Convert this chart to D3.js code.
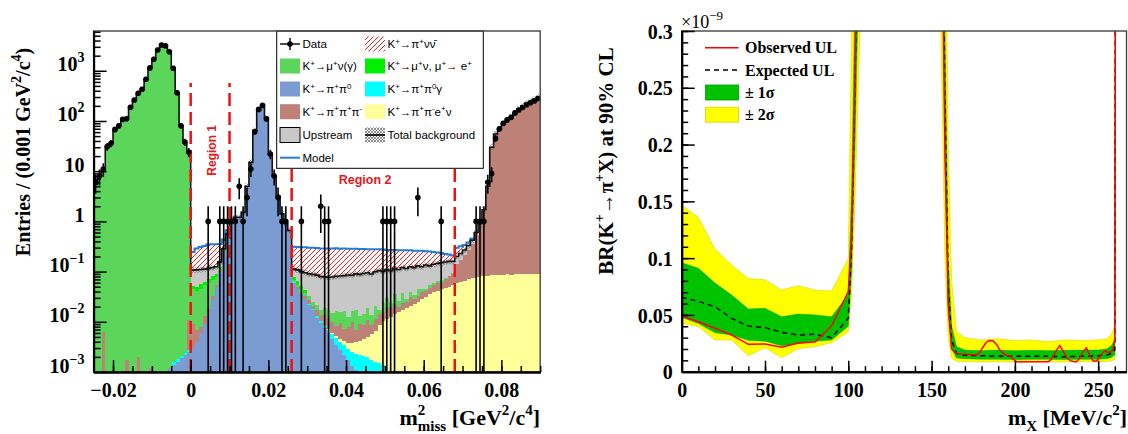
<!DOCTYPE html>
<html><head><meta charset="utf-8">
<script src="https://cdn.jsdelivr.net/npm/d3@7"></script>
<style>body{margin:0;background:#fff} svg{display:block}</style>
</head><body>
<svg id="c" width="1128" height="434"></svg>
<script>
// ---------------- LEFT PANEL DATA (bins of 0.001 GeV^2/c^4 from -0.025) ----------------
const binStart = -0.025, binWidth = 0.001;
const dataCounts = [6,8,11,31,36,68,80,108,111,188,262,356,428,677,1140,1694,2594,3266,3160,2400,1120,366,80,38,24,
 0,0,0,0,1,0,0,1,1,1,
 1,1,5,1,3,11,61,170,205,110,22,8,3,1,1,0,
 0,0,1,0,0,0,0,2,1,1, 0,0,0,0,0,0,0,0,0,0, 0,0,0,1,1,1,1,0,0,0, 0,0,3,0,0,0,0,0,1,0, 0,0,
 0,0,0,0,0,1,1,1,6,9,45,70,90,105,118,145,165,185,210,230,250,280];
const muNu = [5.5,8,10.5,30,36,66,80,105,112,185,260,355,430,680,1140,1700,2600,3250,3150,2400,1120,365,80,37,24,
 0.035,0.035,0.038,0.04,0.04,0.035,0.025,0.015,0.01,0.005,
 0,0,0,0,0,0,0,0,0,0,0,0,0,0,0,0,
 0.004,0.005,0.006,0.005,0.005,0.004,0.005,0.004,0.005,0.006, 0.005,0.008,0.006,0.009,0.005,0.007,0.01,0.004,0.006,0.008,
 0.005,0.009,0.003,0.008,0.01,0.005,0.012,0.006,0.014,0.004, 0.008,0.006,0.012,0.006,0.004,0.008,0.005,0.004,0.006,0.003, 0.003,0.003,
 0,0,0,0,0,0,0,0,0,0,0,0,0,0,0,0,0,0,0,0,0,0];
const muNuE = [0,0,0,0,0,0,0,0,0,0,0,0,0,0,0,0,0,0,0,0,0,0,0,0,0,
 0.008,0.008,0.01,0.01,0.012,0.012,0.01,0.008,0.005,0,
 0,0,0,0,0,0,0,0,0,0,0,0,0,0,0,0,
 0.01,0.012,0.008,0.006,
 0,0,0,0,0,0,0,0,0,0,0,0,0,0,0,0,0,0,0,0,0,0,0,0,0,0,0,0,0,0,0,0,0,0,0,0,0,0,0,0,0,0,0,0,0,0,0,0,0,0,0,0,0,0,0,0,0,0,0,0];
const piPi0 = [0,0,0,0,0,0,0,0,0,0,0,0,0,0,0,0,0,0,0,
 0.0012,0.0014,0.0016,0.0019,0.0022,0.0025,
 0.003,0.004,0.006,0.009,0.015,0.028,0.05,0.1,0.25,0.55,
 1.0,1.2,1.2,1.5,5,15,65,165,195,115,22,8,3.2,1.4,0.9,0.65,
 0.06,0.045,0.035,0.028,0.022,0.017,0.012,0.0095,0.0075,0.006,0.0045,0.0035,0.0028,0.0022,0.0017,0.0013,0.0011,0.001,0.0009,
 0.0008,0.0007,0.0006,0.0005,0.0004,
 0,0,0,0,0,0,0,0,0,0,0,0,0,0,0,0,0,0,0,0,0,0,0,0,0,0,0,0,0,0,0,0,0,0,0,0,0,0,0,0];
const piPi0g = [0,0,0,0,0,0,0,0,0,0,0,0,0,0,0,0,0,0,0,0,
 0.0002,0.0002,0.0002,0.0002,0.0002,
 0,0,0,0,0,0,0,0,0,0,0,0,0,0,0,0,0,0,0,0,0,0,0,0,0,0,
 0.001,0.001,0.001,0.001,0.001,0.001,0.001,0.001,0.001,0.001,
 0.0012,0.0012,0.0012,0.0012,0.0012,0.0012,0.0012,0.0012,0.0012,0.0012,
 0.001,0.001,0.001,0.001, 0.0006,0.0006,
 0,0,0,0,0,0,0,0,0,0,0,0,0,0,0,0,0,0,0,0,0,0,0,0,0,0,0,0,0,0,0,0,0,0,0,0,0,0];
const piPiEnu = [0,0,0,0,0,0,0,0,0,0,0,0,0,0,0,0,0,0,0,0,0,0,0,0,0,0,0,0,0,0,
 0,0,0,0,0,0,0,0,0,0,0,0,0,0,0,0,0,0,0,0,0,0,0,0,0,0,0,0,0,0,
 0.0003,0.0004,0.0005,0.0006,0.0007,0.0008,0.0012,0.0016,0.002,0.0025,
 0.003,0.004,0.005,0.007,0.009,0.011,0.012,0.014,0.016,0.017,
 0.019,0.021,0.023,0.025,0.028,0.031,0.035,0.039,0.042,0.045,
 0.048,0.05,0.054,0.058,0.062,0.066,0.07,0.074,0.077,0.08,
 0.082,0.083,0.084,0.085,0.086,0.087,0.088,0.087,0.088,0.089,
 0.09,0.089,0.09,0.09,0.091];
const pi3 = [0,0,0.0064,0,0,0,0,0,0.0017,0,0,0.002,0,0,0.0012,0,0,0,0,0,0,0,0,0,0.008,
 0.006,0.003,0.002,0.004,0.003,0.005,0.004,0.003,0,0,
 0,0,0,0,0,0,0,0,0,0,0,0,0,0,0,0,
 0.002,0.003,0.002,0.003,0.004,0.003,0.004,0.003,0.005,0.004,
 0.004,0.003,0.005,0.003,0.004,0.006,0.003,0.005,0.004,0.006,
 0.003,0.005,0.006,0.005,0.008,0.006,0.009,0.004,0.007,0.006,
 0.01,0.005,0.008,0.012,0.01,0.012,0.015,0.018,0.016,0.022,
 0.03,0.035,
 0.082,0.108,0.144,0.2,0.286,0.463,0.76,1.56,4.86,29.9,
 55,70,88,105,120,145,175,200,225,245,270,300];
const upstream = [0,0,0,0,0,0,0,0,0,0,0,0,0,0,0,0,0,0,0,0,0,0,0,0,0,
 0.055,0.058,0.054,0.049,0.045,0.04,0.036,0.03,0.02,0.01,
 0.01,0.01,0.01,0.01,0.01,0.01,0.01,0.01,0.01,0.01,0.01,0.01,0.01,0.01,0.01,0.01,
 0.035,0.042,0.048,0.052,0.058,0.063,0.063,0.062,0.06,0.06,
 0.063,0.064,0.066,0.067,0.073,0.068,0.073,0.075,0.077,0.076,
 0.076,0.079,0.087,0.077,0.08,0.081,0.08,0.084,0.082,0.086,
 0.086,0.086,0.085,0.079,0.09,0.075,0.081,0.081,0.083,0.082,
 0.077,0.068,
 0.06,0.06,0.06,0.06,0.06,0.06,0.06,0.06,0.06,0.06,0.06,0.06,0.06,0.06,0.06,0.06,0.06,0.06,0.06,0.06,0.06,0.06];
const signal = [0,0,0,0,0,0,0,0,0,0,0,0,0,0,0,0,0,0,0,0,0,0,0,0,0,
 0.14,0.18,0.2,0.21,0.23,0.23,0.225,0.2,0.15,0.1,
 0,0,0,0,0,0,0,0,0,0,0,0,0,0,0,0,
 0.2,0.2,0.205,0.21,0.21,0.21,0.21,0.21,0.21,0.21,
 0.21,0.21,0.205,0.205,0.2,0.2,0.195,0.195,0.19,0.185,
 0.19,0.18,0.175,0.175,0.16,0.165,0.155,0.155,0.145,0.15,
 0.14,0.14,0.13,0.135,0.12,0.12,0.105,0.095,0.085,0.07,
 0.06,0.05,
 0.1,0.09,0.07,0.05,0.03,
 0,0,0,0,0,0,0,0,0,0,0,0,0,0,0,0,0];
const regionEdges = [0, 0.01, 0.026, 0.068];
const regionLineTop = 570;
const xTicksL = [-0.02, 0, 0.02, 0.04, 0.06, 0.08];
const yDecadesL = [-3, -2, -1, 0, 1, 2, 3];

// ---------------- RIGHT PANEL DATA ----------------
const bandMass  = [0,10,20,30,40,50,60,70,80,90,100,102,104,107,110,150,155,158,160,162,165,170,180,190,200,210,220,230,240,250,255,258,260,261];
const expected  = [0.0655,0.062,0.0572,0.047,0.0402,0.0388,0.0347,0.0323,0.0329,0.030,0.047,0.11,0.25,0.5,1,1,0.65,0.24,0.075,0.028,0.016,0.0145,0.014,0.0138,0.0135,0.0135,0.0135,0.0132,0.0135,0.014,0.0145,0.016,0.019,1];
const oneSigLo  = [0.048,0.0425,0.0344,0.0323,0.0276,0.0268,0.0229,0.0247,0.0268,0.028,0.040,0.09,0.2,0.4,1,1,0.5,0.18,0.05,0.02,0.012,0.0115,0.011,0.011,0.0108,0.011,0.011,0.0108,0.011,0.011,0.0115,0.0125,0.015,1];
const oneSigHi  = [0.096,0.091,0.078,0.0675,0.0552,0.0558,0.0484,0.0508,0.050,0.0484,0.068,0.16,0.33,0.7,1,1,0.8,0.3,0.1,0.04,0.022,0.019,0.0185,0.019,0.0185,0.0188,0.0185,0.0188,0.019,0.019,0.02,0.023,0.028,1];
const twoSigLo  = [0.0426,0.0397,0.0279,0.0279,0.0141,0.0211,0.0123,0.0203,0.022,0.0256,0.035,0.07,0.15,0.3,1,1,0.35,0.1,0.03,0.012,0.009,0.0088,0.0085,0.0088,0.0085,0.0085,0.0088,0.0085,0.0088,0.0088,0.009,0.0095,0.011,1];
const twoSigHi  = [0.1468,0.136,0.108,0.094,0.082,0.081,0.072,0.0757,0.072,0.071,0.0998,0.3,0.6,1,1,1,1,0.45,0.2,0.08,0.035,0.030,0.028,0.029,0.0275,0.028,0.0265,0.028,0.0275,0.028,0.029,0.033,0.04,1];
const obsMass   = [0,10,20,30,40,50,60,70,80,90,100,102,104,106,110,150,155,158,160,162,165,168,171,174,177,179,181,183,185,187,189,191,193,195,197,199,201,205,210,215,220,222,225,227,229,231,233,235,237,239,241,243,245,247,249,251,253,254,256,258,259,260,261];
const observed  = [0.049,0.044,0.0382,0.0323,0.0241,0.0244,0.0215,0.0253,0.0262,0.0405,0.0705,0.12,0.26,0.45,1,1,0.55,0.2,0.06,0.02,0.016,0.0155,0.0153,0.015,0.0147,0.017,0.022,0.026,0.0275,0.027,0.024,0.019,0.0162,0.0145,0.0138,0.011,0.0088,0.0088,0.0088,0.0088,0.0088,0.011,0.019,0.0229,0.018,0.013,0.01,0.009,0.0088,0.012,0.0176,0.021,0.014,0.0095,0.0094,0.0132,0.017,0.0185,0.017,0.0175,0.02,0.03,1];
const xTicksR = [0, 50, 100, 150, 200, 250];
const yTicksR = [0, 0.05, 0.1, 0.15, 0.2, 0.25, 0.3];

// ---------------- DRAWING ----------------
const svg = d3.select('#c');
const serif = '"Liberation Serif","Times New Roman",Times,serif';
const sans = '"Liberation Sans",Arial,Helvetica,sans-serif';

function rich(sel, str, base, o = {}) {
  const small = o.small || base * 0.7, up = o.up || base * 0.42, down = o.down || base * 0.3;
  let cur = 0;
  str.split(/(\^\{[^}]*\}|_\{[^}]*\})/).forEach(tok => {
    if (!tok) return;
    let t = tok, target = 0, size = base;
    if (tok.startsWith('^{')) { t = tok.slice(2, -1); target = -up; size = small; }
    else if (tok.startsWith('_{')) { t = tok.slice(2, -1); target = down; size = small; }
    sel.append('tspan').attr('dy', target - cur).attr('font-size', size).text(t);
    cur = target;
  });
}

const defs = svg.append('defs');
const ph = defs.append('pattern').attr('id', 'hatchRed').attr('patternUnits', 'userSpaceOnUse')
  .attr('width', 5).attr('height', 5);
ph.append('path').attr('d', 'M-1,1 l2,-2 M0,5 l5,-5 M4,6 l2,-2').attr('stroke', '#ff1a1a').attr('stroke-width', 1);
const px = defs.append('pattern').attr('id', 'xHatch').attr('patternUnits', 'userSpaceOnUse')
  .attr('width', 3).attr('height', 3);
px.append('path').attr('d', 'M0,0 L3,3 M3,0 L0,3').attr('stroke', '#444').attr('stroke-width', 0.6);

// ===== LEFT PANEL =====
const xL = d3.scaleLinear().domain([-0.025, 0.09]).range([93.6, 540.2]);
const yL = d3.scaleLog().domain([1e-3, 6200]).range([372, 31]).clamp(true);
const yLv = v => v > 0 ? yL(v) : yL.range()[0];
defs.append('clipPath').attr('id', 'clipL').append('rect')
  .attr('x', 93.6).attr('y', 31).attr('width', 540.2 - 93.6).attr('height', 341);
const edge = i => xL(binStart + i * binWidth);
const nb = dataCounts.length;

const stackLayers = [
  { values: piPi0, fill: '#7b9bd3' },
  { values: piPi0g, fill: '#00ffff' },
  { values: piPiEnu, fill: '#ffff9a' },
  { values: pi3, fill: '#bd8177' },
  { values: muNu, fill: '#5bd65b' },
  { values: muNuE, fill: '#00f000' },
  { values: upstream, fill: '#c8c8c8' }
];
const cum = new Array(nb).fill(0);
const gL = svg.append('g').attr('clip-path', 'url(#clipL)');
function drawLayer(values, fill) {
  const rows = [];
  values.forEach((v, i) => { if (v > 0) rows.push({ i, y0: cum[i], y1: cum[i] + v }); cum[i] += v; });
  gL.append('g').attr('shape-rendering', 'crispEdges').selectAll('rect').data(rows).join('rect')
    .attr('x', d => edge(d.i)).attr('width', d => edge(d.i + 1) - edge(d.i) + 0.6)
    .attr('y', d => yLv(d.y1)).attr('height', d => Math.max(0, yLv(d.y0) - yLv(d.y1)))
    .attr('fill', fill);
}
stackLayers.forEach(l => drawLayer(l.values, l.fill));
const totBkg = cum.slice();
drawLayer(signal, 'url(#hatchRed)');

// uncertainty band
gL.append('g').selectAll('rect').data(totBkg.map((t, i) => ({ t, i })).filter(d => d.t > 0)).join('rect')
  .attr('x', d => edge(d.i)).attr('width', d => edge(d.i + 1) - edge(d.i))
  .attr('y', d => yLv(d.t * 1.14)).attr('height', d => yLv(d.t / 1.14) - yLv(d.t * 1.14))
  .attr('fill', 'url(#xHatch)').attr('opacity', 0.7);

const stepLine = d3.line().curve(d3.curveStepAfter).x(d => d[0]).y(d => d[1]);
let runs = [], run = null;
signal.forEach((s, i) => {
  if (s > 0) { if (!run) { run = []; runs.push(run); } run.push(i); } else run = null;
});
runs.forEach(r => {
  const pts = r.map(i => [edge(i), yLv(totBkg[i] + signal[i])]);
  const last = r[r.length - 1];
  pts.push([edge(last + 1), yLv(totBkg[last] + signal[last])]);
  gL.append('path').attr('d', stepLine(pts)).attr('fill', 'none').attr('stroke', '#1f7fd6').attr('stroke-width', 2);
});
const totPts = totBkg.map((t, i) => [edge(i), yLv(t)]);
totPts.push([edge(nb), yLv(totBkg[nb - 1])]);
gL.append('path').attr('d', stepLine(totPts)).attr('fill', 'none').attr('stroke', '#111').attr('stroke-width', 1.6);

gL.append('g').selectAll('line').data(regionEdges).join('line')
  .attr('x1', d => xL(d)).attr('x2', d => xL(d)).attr('y1', yL(1e-3)).attr('y2', yL(regionLineTop))
  .attr('stroke', '#f01010').attr('stroke-width', 2.5).attr('stroke-dasharray', '13,6');

const pts = dataCounts.map((n, i) => ({ n, i })).filter(d => d.n > 0);
const gD = gL.append('g');
gD.selectAll('line').data(pts).join('line')
  .attr('x1', d => (edge(d.i) + edge(d.i + 1)) / 2).attr('x2', d => (edge(d.i) + edge(d.i + 1)) / 2)
  .attr('y1', d => yLv(d.n + Math.sqrt(d.n))).attr('y2', d => yLv(d.n - Math.sqrt(d.n)))
  .attr('stroke', '#000').attr('stroke-width', 1.6);
gD.selectAll('circle').data(pts).join('circle')
  .attr('cx', d => (edge(d.i) + edge(d.i + 1)) / 2).attr('cy', d => yLv(d.n)).attr('r', 2.8).attr('fill', '#000');

svg.append('text').attr('transform', `translate(${xL(0.0065)},${yL(26)}) rotate(-90)`)
  .attr('text-anchor', 'middle').attr('font-family', sans).attr('font-weight', 'bold')
  .attr('font-size', 12).attr('fill', '#e8161b').text('Region 1');
svg.append('text').attr('x', xL(0.0449)).attr('y', yL(5.6))
  .attr('text-anchor', 'middle').attr('font-family', sans).attr('font-weight', 'bold')
  .attr('font-size', 12.5).attr('fill', '#e8161b').text('Region 2');

// legend (left)
const lg = svg.append('g');
lg.append('rect').attr('x', 276.7).attr('y', 31).attr('width', 206.6).attr('height', 137.3)
  .attr('fill', '#fff').attr('stroke', '#000').attr('stroke-width', 1);
const rowY = [44, 66, 89, 111.7, 135, 157.7];
const legL = [
  { col: 0, row: 0, type: 'data', label: 'Data' },
  { col: 0, row: 1, type: 'box', fill: '#5bd65b', label: 'K^{+}→μ^{+}ν(γ)' },
  { col: 0, row: 2, type: 'box', fill: '#7b9bd3', label: 'K^{+}→π^{+}π^{0}' },
  { col: 0, row: 3, type: 'box', fill: '#bd8177', label: 'K^{+}→π^{+}π^{+}π^{-}' },
  { col: 0, row: 4, type: 'box', fill: '#c8c8c8', stroke: '#000', label: 'Upstream' },
  { col: 0, row: 5, type: 'line', color: '#1f7fd6', label: 'Model' },
  { col: 1, row: 0, type: 'box', fill: 'url(#hatchRed)', label: 'K^{+}→π^{+}νν\u0304' },
  { col: 1, row: 1, type: 'box', fill: '#00f000', label: 'K^{+}→μ^{+}ν, μ^{+}→ e^{+}' },
  { col: 1, row: 2, type: 'box', fill: '#00ffff', label: 'K^{+}→π^{+}π^{0}γ' },
  { col: 1, row: 3, type: 'box', fill: '#ffff9a', label: 'K^{+}→π^{+}π^{-}e^{+}ν' },
  { col: 1, row: 4, type: 'tot', label: 'Total background' }
];
const colX = [280, 365];
legL.forEach(e => {
  const x0 = colX[e.col], yc = rowY[e.row];
  if (e.type === 'box') {
    lg.append('rect').attr('x', x0).attr('y', yc - 7.5).attr('width', 20).attr('height', 15)
      .attr('fill', e.fill).attr('stroke', e.stroke || 'none').attr('stroke-width', 1);
  } else if (e.type === 'tot') {
    lg.append('rect').attr('x', x0).attr('y', yc - 7.5).attr('width', 20).attr('height', 15).attr('fill', 'url(#xHatch)');
    lg.append('line').attr('x1', x0).attr('x2', x0 + 20).attr('y1', yc).attr('y2', yc).attr('stroke', '#000').attr('stroke-width', 1.6);
  } else if (e.type === 'line') {
    lg.append('line').attr('x1', x0).attr('x2', x0 + 20).attr('y1', yc).attr('y2', yc).attr('stroke', e.color).attr('stroke-width', 2);
  } else if (e.type === 'data') {
    lg.append('line').attr('x1', x0).attr('x2', x0 + 20).attr('y1', yc).attr('y2', yc).attr('stroke', '#000').attr('stroke-width', 1.4);
    lg.append('line').attr('x1', x0 + 10).attr('x2', x0 + 10).attr('y1', yc - 6).attr('y2', yc + 6).attr('stroke', '#000').attr('stroke-width', 1.4);
    lg.append('circle').attr('cx', x0 + 10).attr('cy', yc).attr('r', 2.8).attr('fill', '#000');
  }
  const t = lg.append('text').attr('x', x0 + 22.5).attr('y', yc + 4).attr('font-family', sans).attr('font-size', 11.5).attr('fill', '#000');
  rich(t, e.label, 11.5, { small: 8, up: 4.5 });
});

function styleAxis(g) {
  g.select('.domain').attr('stroke', '#000').attr('stroke-width', 2);
  g.selectAll('.tick line').attr('stroke', '#000').attr('stroke-width', 1.5);
}
svg.append('rect').attr('x', 93.6).attr('y', 31).attr('width', 540.2 - 93.6).attr('height', 341)
  .attr('fill', 'none').attr('stroke', '#444').attr('stroke-width', 1.4);
const minorL = [];
for (let e = -3; e <= 3; e++) for (let m = 2; m <= 9; m++) { const v = m * Math.pow(10, e); if (v < 6200) minorL.push(v); }
const gyl = svg.append('g').attr('transform', 'translate(93.6,0)');
gyl.call(d3.axisLeft(yL).tickValues(minorL).tickSize(-7).tickSizeOuter(0).tickFormat(''));
styleAxis(gyl);
const gyl2 = svg.append('g').attr('transform', 'translate(93.6,0)');
gyl2.call(d3.axisLeft(yL).tickValues(yDecadesL.map(e => Math.pow(10, e))).tickSize(-13).tickSizeOuter(0).tickFormat(''));
styleAxis(gyl2);
gyl2.selectAll('.tick').each(function (d) {
  const e = Math.round(Math.log10(d));
  const t = d3.select(this).append('text').attr('x', -9).attr('y', 0).attr('dy', '0.36em')
    .attr('text-anchor', 'end').attr('font-family', serif).attr('font-weight', 'bold').attr('fill', '#000').attr('font-size', 20);
  const s = e === 0 ? '1' : e === 1 ? '10' : '10^{' + (e < 0 ? '−' + (-e) : e) + '}';
  rich(t, s, 20, { small: 14, up: 9 });
});
const minorXL = d3.range(-0.025, 0.0901, 0.005);
const gxl = svg.append('g').attr('transform', 'translate(0,372)');
gxl.call(d3.axisBottom(xL).tickValues(minorXL).tickSize(-6).tickSizeOuter(0).tickFormat(''));
styleAxis(gxl);
const gxl2 = svg.append('g').attr('transform', 'translate(0,372)');
gxl2.call(d3.axisBottom(xL).tickValues(xTicksL).tickSize(-12).tickSizeOuter(0)
  .tickFormat(d => Math.abs(d) < 1e-9 ? '0' : (d < 0 ? '−' : '') + Math.abs(d).toFixed(2)));
styleAxis(gxl2);
gxl2.selectAll('.tick text').attr('y', 25).attr('dy', 0).attr('font-family', serif).attr('font-weight', 'bold')
  .attr('font-size', 20).attr('fill', '#000');

const tyl = svg.append('text').attr('transform', 'translate(30,152) rotate(-90)').attr('text-anchor', 'middle')
  .attr('font-family', serif).attr('font-weight', 'bold').attr('fill', '#000').attr('font-size', 20);
rich(tyl, 'Entries / (0.001 GeV^{2}/c^{4})', 20, { small: 14, up: 9 });
const txl = svg.append('text').attr('x', 540).attr('y', 425).attr('text-anchor', 'end')
  .attr('font-family', serif).attr('font-weight', 'bold').attr('fill', '#000').attr('font-size', 22);
txl.append('tspan').text('m');
txl.append('tspan').attr('font-size', 15).attr('dy', -10).text('2');
txl.append('tspan').attr('font-size', 15).attr('dx', -7.5).attr('dy', 16).text('miss');
txl.append('tspan').attr('font-size', 22).attr('dy', -6).text(' [GeV');
txl.append('tspan').attr('font-size', 15).attr('dy', -10).text('2');
txl.append('tspan').attr('font-size', 22).attr('dy', 10).text('/c');
txl.append('tspan').attr('font-size', 15).attr('dy', -10).text('4');
txl.append('tspan').attr('font-size', 22).attr('dy', 10).text(']');

// ===== RIGHT PANEL =====
const xR = d3.scaleLinear().domain([0, 267]).range([681.7, 1126.5]);
const yR = d3.scaleLinear().domain([0, 0.3]).range([371.7, 31]);
defs.append('clipPath').attr('id', 'clipR').append('rect')
  .attr('x', 681.7).attr('y', 31).attr('width', 1126.5 - 681.7).attr('height', 340.7);
const gR = svg.append('g').attr('clip-path', 'url(#clipR)');
const idx = d3.range(bandMass.length);
const bandArea = (lo, hi) => d3.area().x(i => xR(bandMass[i])).y0(i => yR(lo[i])).y1(i => yR(hi[i]))(idx);
gR.append('path').attr('d', bandArea(twoSigLo, twoSigHi)).attr('fill', '#ffff00').attr('stroke', '#d8d800').attr('stroke-width', 0.6);
gR.append('path').attr('d', bandArea(oneSigLo, oneSigHi)).attr('fill', '#00c300').attr('stroke', '#00a000').attr('stroke-width', 0.5);
gR.append('path').attr('d', d3.line().x(i => xR(bandMass[i])).y(i => yR(expected[i]))(idx))
  .attr('fill', 'none').attr('stroke', '#000').attr('stroke-width', 1.5).attr('stroke-dasharray', '5,4');
gR.append('path').attr('d', d3.line().x(i => xR(obsMass[i])).y(i => yR(observed[i]))(d3.range(obsMass.length)))
  .attr('fill', 'none').attr('stroke', '#ff0000').attr('stroke-width', 1.5);

svg.append('rect').attr('x', 681.7).attr('y', 31).attr('width', 1126.5 - 681.7).attr('height', 340.7)
  .attr('fill', 'none').attr('stroke', '#444').attr('stroke-width', 1.4);
const gyr = svg.append('g').attr('transform', 'translate(681.7,0)');
gyr.call(d3.axisLeft(yR).tickValues(d3.range(0, 0.3001, 0.01)).tickSize(-6.5).tickSizeOuter(0).tickFormat(''));
styleAxis(gyr);
const gyr2 = svg.append('g').attr('transform', 'translate(681.7,0)');
gyr2.call(d3.axisLeft(yR).tickValues(yTicksR).tickSize(-13).tickSizeOuter(0)
  .tickFormat(d => d === 0 ? '0' : String(+d.toFixed(2))));
styleAxis(gyr2);
gyr2.selectAll('.tick text').attr('x', -9).attr('dy', '0.36em').attr('font-family', serif).attr('font-weight', 'bold')
  .attr('font-size', 20).attr('fill', '#000');
const gxr = svg.append('g').attr('transform', 'translate(0,371.7)');
gxr.call(d3.axisBottom(xR).tickValues(d3.range(0, 261, 10)).tickSize(-5.5).tickSizeOuter(0).tickFormat(''));
styleAxis(gxr);
const gxr2 = svg.append('g').attr('transform', 'translate(0,371.7)');
gxr2.call(d3.axisBottom(xR).tickValues(xTicksR).tickSize(-11).tickSizeOuter(0).tickFormat(d3.format('d')));
styleAxis(gxr2);
gxr2.selectAll('.tick text').attr('y', 25).attr('dy', 0).attr('font-family', serif).attr('font-weight', 'bold')
  .attr('font-size', 20).attr('fill', '#000');

const tex = svg.append('text').attr('x', 681).attr('y', 28).attr('font-family', serif).attr('fill', '#000').attr('font-size', 18);
rich(tex, '×10^{−9}', 18, { small: 13, up: 8 });

const tyr = svg.append('text').attr('transform', 'translate(613,161) rotate(-90)').attr('text-anchor', 'middle')
  .attr('font-family', serif).attr('font-weight', 'bold').attr('fill', '#000').attr('font-size', 21);
rich(tyr, 'BR(K^{+}→π^{+}X) at 90% CL', 21, { small: 14, up: 9 });
const txr = svg.append('text').attr('x', 1127).attr('y', 425).attr('text-anchor', 'end')
  .attr('font-family', serif).attr('font-weight', 'bold').attr('fill', '#000').attr('font-size', 22);
rich(txr, 'm_{X} [MeV/c^{2}]', 22, { small: 15, up: 10, down: 6 });

const lr = svg.append('g');
const legR = [
  { y: 47.7, type: 'line', color: '#ff0000', label: 'Observed UL' },
  { y: 70, type: 'dash', color: '#000', label: 'Expected UL' },
  { y: 92.5, type: 'box', fill: '#00c300', stroke: '#00a000', label: '± 1σ' },
  { y: 114.7, type: 'box', fill: '#ffff00', stroke: '#d8d800', label: '± 2σ' }
];
legR.forEach(e => {
  if (e.type === 'box') {
    lr.append('rect').attr('x', 705.5).attr('y', e.y - 7.5).attr('width', 33).attr('height', 15)
      .attr('fill', e.fill).attr('stroke', e.stroke).attr('stroke-width', 0.8);
  } else {
    lr.append('line').attr('x1', 705).attr('x2', 738.5).attr('y1', e.y).attr('y2', e.y)
      .attr('stroke', e.color).attr('stroke-width', 1.5).attr('stroke-dasharray', e.type === 'dash' ? '5,4' : null);
  }
  lr.append('text').attr('x', 745).attr('y', e.y + 5.5).attr('font-family', serif).attr('font-weight', 'bold')
    .attr('font-size', 16).attr('fill', '#000').text(e.label);
});
</script>
</body></html>
